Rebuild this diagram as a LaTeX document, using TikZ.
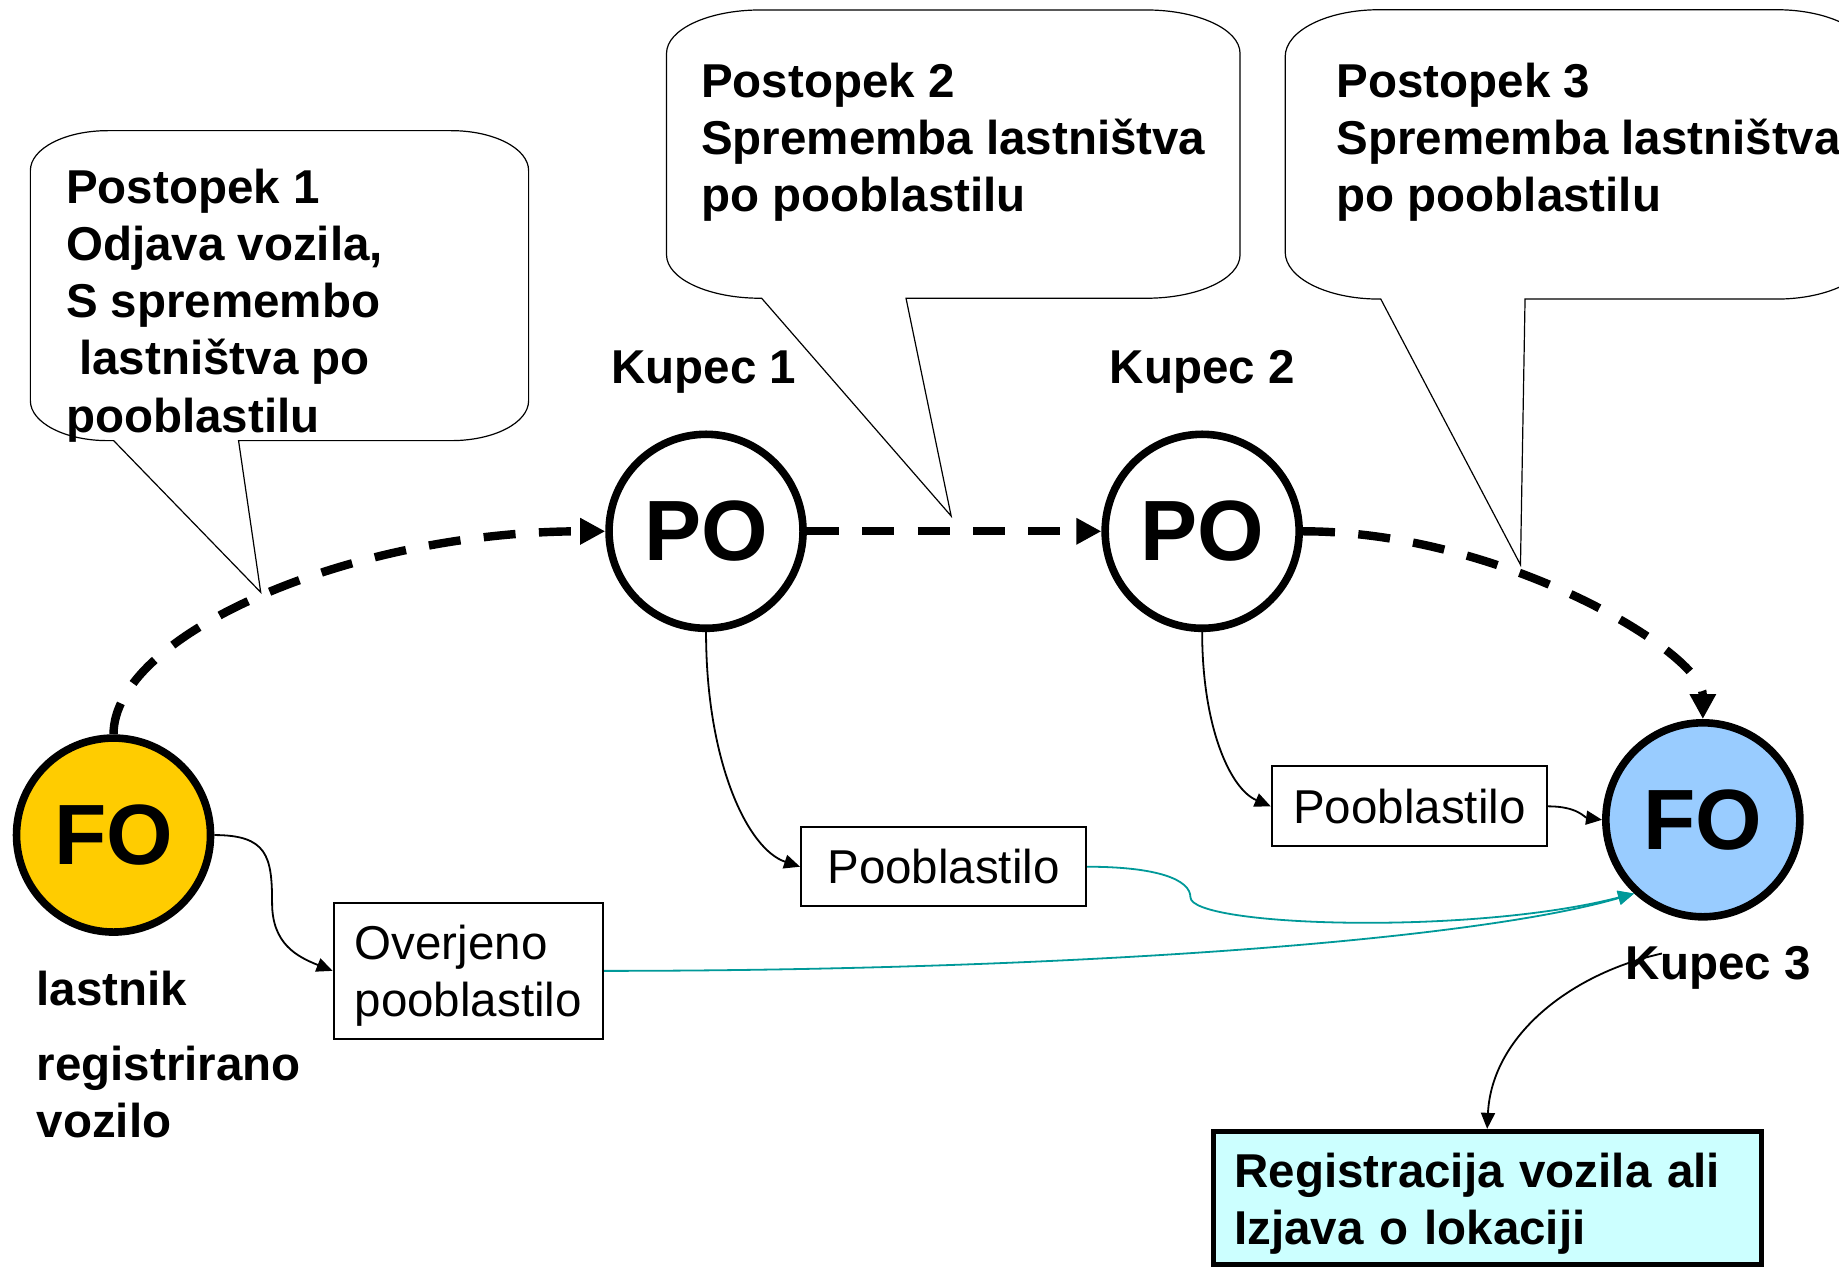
\documentclass[tikz,border=0pt]{standalone}
\usepackage{fontspec}
\setmainfont{Liberation Sans}
\usetikzlibrary{arrows.meta}
\definecolor{foyellow}{HTML}{FFCC00}
\definecolor{foblue}{HTML}{99CCFF}
\definecolor{regcyan}{HTML}{CCFFFF}
\definecolor{tealline}{HTML}{009999}
\newcommand\lblfont{\fontsize{23.75pt}{28.56pt}\selectfont\bfseries}
\newcommand\regfont{\fontsize{23.75pt}{28.56pt}\selectfont}
\newcommand\bigfont{\fontsize{42.8pt}{50pt}\selectfont\bfseries}
\newcommand\mycallout[9]{%
 \pgfmathsetmacro\cok{0.5523*#5}%
 \pgfmathsetmacro\col{0.5523*#6}%
 \pgfmathsetmacro\coxa{#1+#5}%
 \pgfmathsetmacro\coxb{#3-#5}%
 \pgfmathsetmacro\coya{#2+#6}%
 \pgfmathsetmacro\coyb{#4-#6}%
 \draw[callout] (#8,#4) -- (\coxb,#4) .. controls +(\cok,0) and +(0,\col) .. (#3,\coyb) -- (#3,\coya) .. controls +(0,-\col) and +(\cok,0) .. (\coxb,#2) -- (\coxa,#2) .. controls +(-\cok,0) and +(0,-\col) .. (#1,\coya) -- (#1,\coyb) .. controls +(0,\col) and +(-\cok,0) .. (\coxa,#4) -- (#7,#4) -- #9 -- cycle;}
\begin{document}
\begin{tikzpicture}[x=0.5864pt,y=-0.5864pt,
  lbl/.style={font=\lblfont, inner sep=0, anchor=base west},
  lblm/.style={font=\lblfont, inner sep=0, anchor=north west, align=left},
  circ/.style={circle, draw, line width=3.8pt, minimum size=97pt, inner sep=0, font=\bigfont},
  pbox/.style={draw, line width=1pt, inner sep=0, font=\regfont, align=left, fill=white},
  dasharrow/.style={line width=4.2pt, dash pattern=on 16pt off 11.7pt, -{Triangle[length=12.5pt,width=12.5pt]}},
  thinarrow/.style={line width=0.9pt, -{Triangle[length=8pt,width=7pt]}},
  tealarrow/.style={thinarrow, draw=tealline},
  callout/.style={draw, line width=0.6pt, fill=white}]
\useasboundingbox (0,0) rectangle (1568,1083);
\fill[white] (0,0) rectangle (1568,1083);
\clip (0,0) rectangle (1568,1083);

\mycallout{25.9}{111.4}{450.7}{375.7}{66}{34}{96.9}{203.4}{(222.3,505)}
\mycallout{568.3}{8.5}{1057.3}{254.3}{80}{37}{649.4}{772.5}{(811,440)}
\mycallout{1095.8}{8.3}{1595}{255}{80}{40}{1177.3}{1300.3}{(1296.4,481.5)}

\node[circ,fill=foyellow] (FOL) at (96.8,712) {FO};
\node[circ,fill=white] (PO1) at (602,453) {PO};
\node[circ,fill=white] (PO2) at (1025,453) {PO};
\node[circ,fill=foblue] (FOR) at (1451.9,699) {FO};

\node[pbox, minimum width=134.7pt, minimum height=68.2pt] (OPA) at (399.3,827.8) {\rule{0pt}{22pt}Overjeno\\pooblastilo};
\node[pbox, minimum width=142.5pt, minimum height=39.5pt] (PB1) at (804.5,739) {Pooblastilo};
\node[pbox, minimum width=137.7pt, minimum height=39.9pt] (PB2) at (1201.75,687.5) {Pooblastilo};
\node[draw, line width=2.5pt, fill=regcyan, font=\lblfont, align=left, text width=252.8pt, inner xsep=10.55pt, inner ysep=0pt, minimum height=66.7pt] (REG) at (1268,1021.5) {\rule{0pt}{23.2pt}Registracija vozila ali\\Izjava o lokaciji};

\node[lblm] (P1) at (56,143.9) {Postopek 1\\Odjava vozila,\\S spremembo\\\hspace*{0.28em}lastništva po\\pooblastilu};
\node[lblm] (P2) at (597.5,53.3) {Postopek 2\\Sprememba lastništva\\po pooblastilu};
\node[lblm] (P3) at (1139.3,53.2) {Postopek 3\\Sprememba lastništva\\po pooblastilu};
\node[lbl] (K1) at (521,327.4) {Kupec 1};
\node[lbl] (K2) at (946,327.4) {Kupec 2};
\node[lbl] (K3) at (1386,835) {Kupec 3};
\node[lbl] (LAS) at (31,857) {lastnik};
\node[lblm] (RV) at (31,891.4) {registrirano\\vozilo};

\coordinate (k3s) at (1417,813);

\draw[dasharrow] (FOL.north) .. controls +(0,-85) and +(-217,0) .. (PO1.west);
\draw[dasharrow] (PO1.east) -- (PO2.west);
\draw[dasharrow] (PO2.east) .. controls +(170,0) and +(0,-56.5) .. (FOR.north);

\draw[thinarrow] (FOL.east) .. controls +(45,0) and +(0,-40) .. (232,770) .. controls +(0,35) and +(-30,-12) .. (OPA.west);
\draw[thinarrow] (PO1.south) .. controls +(0,110) and +(-45,-15) .. (PB1.west);
\draw[thinarrow] (PO2.south) .. controls +(0,80) and +(-35,-15) .. (PB2.west);
\draw[thinarrow] (PB2.east) .. controls +(25,0) and +(-15,-2) .. (FOR.west);
\draw[tealarrow] (OPA.east) .. controls +(385,0) and +(-140,41) .. (FOR.227);
\draw[tealarrow] (PB1.east) .. controls +(60,0) and +(0,-15) .. (1015,765) .. controls +(0,25) and +(-140,36) .. (FOR.227);
\draw[thinarrow] (k3s) .. controls +(-77,17) and +(4,-80) .. (REG.north);
\end{tikzpicture}
\end{document}
